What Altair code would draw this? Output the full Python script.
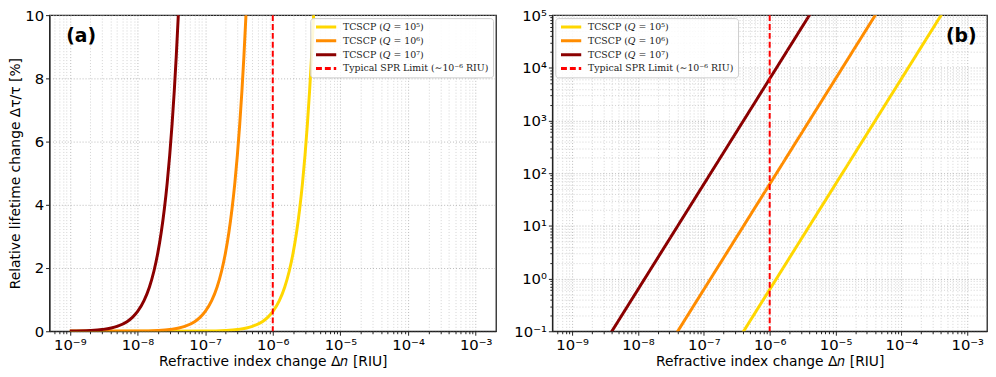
import altair as alt
import pandas as pd

# ---------------- data ----------------
SERIES = ["TCSCP (𝑄 = 10⁵)", "TCSCP (𝑄 = 10⁶)", "TCSCP (𝑄 = 10⁷)"]
SPR_LABEL = "Typical SPR Limit (∼10⁻⁶ RIU)"
COLORS = ["#FFD700", "#FF8C00", "#8B0000", "#FF0000"]

# Q = 1e5
dn_q5 = [1e-9, 1e-8, 1e-7, 2e-7, 3e-7, 5e-7, 7e-7, 8.5e-7, 1e-6, 1.25e-6, 1.5e-6, 1.75e-6,
         2e-6, 2.25e-6, 2.5e-6, 2.75e-6, 3e-6, 3.25e-6, 3.5e-6, 3.75e-6, 4e-6, 4.25e-6,
         1e-5, 1e-4, 5e-4]
rel_q5 = [0.00000062, 0.000062, 0.0062, 0.0248, 0.0558, 0.155, 0.304, 0.448, 0.62, 0.969, 1.395, 1.899,
          2.48, 3.139, 3.875, 4.689, 5.58, 6.549, 7.595, 8.719, 9.92, 11.2,
          62, 6200, 155000]
# Q = 1e6
dn_q6 = [1e-9, 1e-8, 2e-8, 3e-8, 5e-8, 7e-8, 8.5e-8, 1e-7, 1.25e-7, 1.5e-7, 1.75e-7,
         2e-7, 2.25e-7, 2.5e-7, 2.75e-7, 3e-7, 3.25e-7, 3.5e-7, 3.75e-7, 4e-7, 4.25e-7,
         1e-6, 1e-5, 5e-5]
rel_q6 = [0.000062, 0.0062, 0.0248, 0.0558, 0.155, 0.304, 0.448, 0.62, 0.969, 1.395, 1.899,
          2.48, 3.139, 3.875, 4.689, 5.58, 6.549, 7.595, 8.719, 9.92, 11.2,
          62, 6200, 155000]
# Q = 1e7
dn_q7 = [1e-9, 2e-9, 3e-9, 5e-9, 7e-9, 8.5e-9, 1e-8, 1.25e-8, 1.5e-8, 1.75e-8,
         2e-8, 2.25e-8, 2.5e-8, 2.75e-8, 3e-8, 3.25e-8, 3.5e-8, 3.75e-8, 4e-8, 4.25e-8,
         1e-7, 1e-6, 5e-6]
rel_q7 = [0.0062, 0.0248, 0.0558, 0.155, 0.304, 0.448, 0.62, 0.969, 1.395, 1.899,
          2.48, 3.139, 3.875, 4.689, 5.58, 6.549, 7.595, 8.719, 9.92, 11.2,
          62, 6200, 155000]

spr_dn = [1e-6]

X_DOMAIN = [5.01e-10, 1.995e-3]
YA_TICKS = [0, 2, 4, 6, 8, 10]
YB_DOMAIN = [0.1, 1e5]
X_TITLE = "Refractive index change Δ𝑛 [RIU]"
YA_TITLE = "Relative lifetime change Δτ/τ [%]"

# ---------------- tables ----------------
rows = []
for name, xs, ys in [(SERIES[0], dn_q5, rel_q5), (SERIES[1], dn_q6, rel_q6), (SERIES[2], dn_q7, rel_q7)]:
    for i, (a, b) in enumerate(zip(xs, ys)):
        rows.append({"dn": a, "rel": b, "series": name, "i": i})
df = pd.DataFrame(rows)
df_spr = pd.DataFrame({"dn": spr_dn, "series": [SPR_LABEL]})

ALL = SERIES + [SPR_LABEL]
DASHES = [[1, 0], [1, 0], [1, 0], [6, 3]]

# ---------------- axis helpers ----------------
def log_ticks(lo_exp, hi_exp, lo, hi):
    vals = []
    for k in range(lo_exp, hi_exp + 1):
        for m in range(1, 10):
            v = float(f"{m}e{k}")
            if lo <= v <= hi:
                vals.append(v)
    return vals

LOGV = "(log(datum.value)/LN10)"
IS_MAJOR = f"abs({LOGV} - round({LOGV})) < 0.001"

def sup_expr():
    s = f"toString(round({LOGV}))"
    for a, b in [("-", "⁻"), ("−", "⁻"), ("0", "⁰"), ("1", "¹"), ("2", "²"), ("3", "³"),
                 ("4", "⁴"), ("5", "⁵"), ("6", "⁶"), ("7", "⁷"), ("8", "⁸"), ("9", "⁹")]:
        s = f"replace({s}, '{a}', '{b}')"
    return s

LOG_LABEL = f"{IS_MAJOR} ? '10' + {sup_expr()} : ''"
GRID_COLOR = {"condition": {"test": IS_MAJOR, "value": "#a8a8a8"}, "value": "#c8c8c8"}
TICK_SIZE = {"condition": {"test": IS_MAJOR, "value": 4}, "value": 2.5}

x_vals = log_ticks(-10, -3, X_DOMAIN[0], X_DOMAIN[1])
yb_vals = log_ticks(-1, 5, YB_DOMAIN[0], YB_DOMAIN[1])

def x_axis():
    return alt.Axis(values=x_vals, labelExpr=LOG_LABEL, grid=True, gridColor=GRID_COLOR,
                    gridDash=[1, 2], gridWidth=0.8, tickSize=TICK_SIZE, labelFlush=False,
                    labelOverlap=False, titlePadding=3)

def legend(orient):
    return alt.Legend(orient=orient, title=None, offset=3, symbolType="stroke", symbolSize=420,
                      symbolStrokeWidth=3, labelFont="DejaVu Serif", labelFontSize=9.5,
                      labelColor="#222", fillColor="rgba(255,255,255,0.85)", strokeColor="#cccccc",
                      cornerRadius=3, padding=4, rowPadding=4, clipHeight=10, labelOffset=5,
                      labelLimit=300)

def panel(y_enc, orient, tag, tag_x, W):
    color = alt.Color("series:N", scale=alt.Scale(domain=ALL, range=COLORS), legend=legend(orient))
    dash = alt.StrokeDash("series:N", scale=alt.Scale(domain=ALL, range=DASHES), legend=legend(orient))
    lines = alt.Chart(df).mark_line(strokeWidth=3, clip=True, interpolate="monotone").encode(
        x=alt.X("dn:Q", scale=alt.Scale(type="log", domain=X_DOMAIN, nice=False), axis=x_axis(),
                title=X_TITLE),
        y=y_enc,
        color=color,
        strokeDash=dash,
        order="i:Q",
    )
    rule = alt.Chart(df_spr).mark_rule(strokeWidth=2).encode(
        x="dn:Q", color=color, strokeDash=dash,
    )
    label = alt.Chart(pd.DataFrame({"t": [tag]})).mark_text(
        fontSize=19, fontWeight="bold", font="DejaVu Sans", color="black"
    ).encode(text="t:N", x=alt.value(tag_x), y=alt.value(21))
    return alt.layer(lines, rule, label).properties(width=W, height=320)

ya = alt.Y("rel:Q", scale=alt.Scale(domain=[0, 10], nice=False, zero=False),
           axis=alt.Axis(values=YA_TICKS, grid=True, gridColor="#a8a8a8", gridDash=[1, 2],
                         gridWidth=0.8, tickSize=4, titlePadding=2),
           title=YA_TITLE)
yb = alt.Y("rel:Q", scale=alt.Scale(type="log", domain=YB_DOMAIN, nice=False),
           axis=alt.Axis(values=yb_vals, labelExpr=LOG_LABEL, grid=True, gridColor=GRID_COLOR,
                         gridDash=[1, 2], gridWidth=0.8, tickSize=TICK_SIZE, labelOverlap=False,
                         labelFlush=False),
           title=None)

pa = panel(ya, "top-right", "(a)", 32, 452)
pb = panel(yb, "top-left", "(b)", 414, 440)

chart = alt.hconcat(pa, pb, spacing=16).resolve_scale(
    color="independent", strokeDash="independent"
).resolve_legend(
    color="independent", strokeDash="independent"
).properties(
    padding={"left": 0, "top": -3, "right": 0, "bottom": 0}
).configure_view(
    stroke="#222222", strokeWidth=1.3
).configure_axis(
    labelFont="DejaVu Sans", labelFontSize=15, labelColor="black",
    titleFont="DejaVu Sans", titleFontSize=14, titleColor="black", titleFontWeight="normal",
    domainColor="#222222", tickColor="#222222", labelPadding=2,
)

chart.save("out.html", embed_options={"renderer": "svg", "actions": False})
